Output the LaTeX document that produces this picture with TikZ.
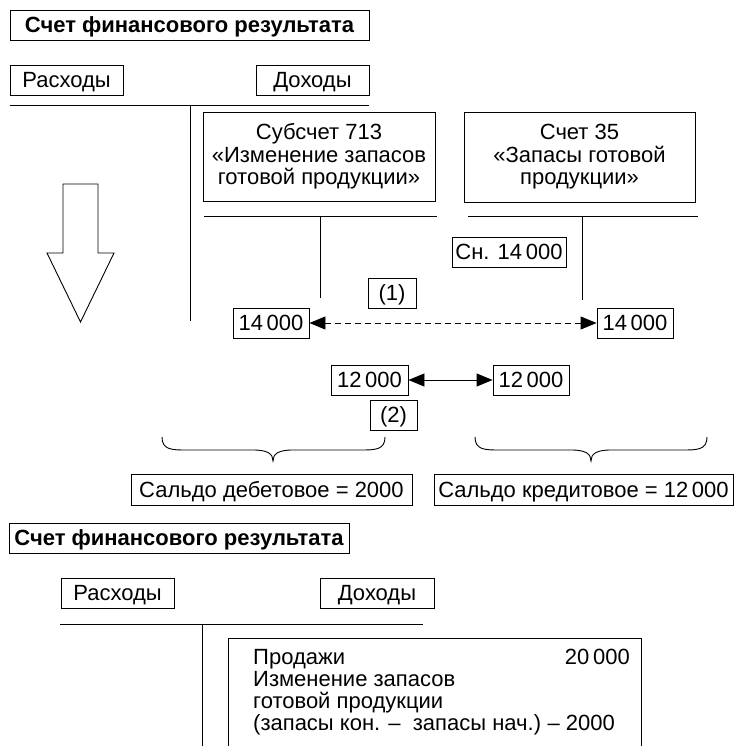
\documentclass[tikz,border=0pt]{standalone}
\usepackage{fontspec}
\setmainfont{Liberation Sans}
\usetikzlibrary{arrows.meta}
\begin{document}
\begin{tikzpicture}[x=1pt,y=-1pt,
  every node/.style={font=\fontsize{22}{22.5}\selectfont, inner sep=0pt},
  bx/.style={draw, line width=0.9pt, minimum height=30pt, text height=15.5pt, text depth=0pt},
  ttl/.style={bx, font=\fontsize{22}{22}\selectfont\bfseries},
  acct/.style={draw, line width=0.9pt, align=center},
  ln/.style={line width=0.9pt},
  dtip/.style={{Triangle[length=16pt,width=13pt]}-{Triangle[length=16pt,width=13pt]}},
  txt/.style={anchor=base west},
]
\useasboundingbox (0,0) rectangle (734,746);

% ---- top account
\node[ttl, minimum width=359pt] (t1) at (189.5,25) {Счет финансового результата};
\node[bx, minimum width=113pt] (r1) at (66.5,80) {Расходы};
\node[bx, minimum width=113pt] (d1) at (312.5,80) {Доходы};
\coordinate (h1a) at (10,105); \coordinate (h1b) at (369,105);
\coordinate (v1a) at (190,105); \coordinate (v1b) at (190,321);
\draw[ln] (h1a) -- (h1b);
\draw[ln] (v1a) -- (v1b);

% big down arrow
\draw[line width=0.9pt] (63,184) -- (98,184) -- (98,253) -- (114,253) -- (80.5,322)
  -- (47,253) -- (63,253) -- cycle;

% ---- subaccount 713
\node[acct, minimum width=232pt, minimum height=89pt] (s713) at (319,156.5)
  {Субсчет 713\\«Изменение запасов\\готовой продукции»};
\coordinate (l713a) at (204,216); \coordinate (l713b) at (437,216);
\coordinate (v713a) at (320,216); \coordinate (v713b) at (320,298);
\draw[ln] (l713a) -- (l713b);
\draw[ln] (v713a) -- (v713b);

% ---- account 35
\node[acct, minimum width=231pt, minimum height=90pt] (s35) at (579.5,157)
  {Счет 35\\«Запасы готовой\\продукции»};
\coordinate (l35a) at (468,216); \coordinate (l35b) at (698,216);
\coordinate (v35a) at (582,216); \coordinate (v35b) at (582,300);
\draw[ln] (l35a) -- (l35b);
\draw[ln] (v35a) -- (v35b);

\node[bx, minimum width=114pt] (sn) at (509,252) {Сн. 14\,000};
\node[bx, minimum width=48pt] (one) at (392,293) {(1)};
\node[bx, minimum width=76pt] (a14L) at (271,323) {14\,000};
\node[bx, minimum width=76pt] (a14R) at (635,323) {14\,000};
\draw[ln, dash pattern=on 6pt off 4pt, dtip] (a14L) -- (a14R);

\node[bx, minimum width=77pt] (a12L) at (369.5,380) {12\,000};
\node[bx, minimum width=76pt] (a12R) at (531,380) {12\,000};
\draw[ln, dtip] (a12L) -- (a12R);

\node[bx, minimum width=47pt] (two) at (393.5,415) {(2)};

% braces
\draw[ln] (162,437) .. controls (162,450) and (172,450) .. (187,450) -- (253,450)
  .. controls (268,450) and (273,454) .. (273,461)
  .. controls (273,454) and (278,450) .. (293,450) -- (360,450)
  .. controls (375,450) and (385,450) .. (385,437);
\draw[ln] (475,437) .. controls (475,450) and (485,450) .. (500,450) -- (571,450)
  .. controls (586,450) and (591,454) .. (591,461)
  .. controls (591,454) and (596,450) .. (611,450) -- (682,450)
  .. controls (697,450) and (707,450) .. (707,437);

\node[bx, minimum width=281pt, minimum height=31pt] (sdL) at (271.5,489.5) {Сальдо дебетовое = 2000};
\node[bx, minimum width=299pt, minimum height=31pt] (sdR) at (583.5,489.5) {Сальдо кредитовое = 12\,000};

% ---- bottom account
\node[ttl, minimum width=340pt] (t2) at (179,538) {Счет финансового результата};
\node[bx, minimum width=113pt] (r2) at (117.5,593) {Расходы};
\node[bx, minimum width=114pt] (d2) at (377,593) {Доходы};
\coordinate (h2a) at (60,624); \coordinate (h2b) at (423,624);
\coordinate (v2a) at (202,624); \coordinate (v2b) at (202,746);
\draw[ln] (h2a) -- (h2b);
\draw[ln] (v2a) -- (v2b);

\draw[ln] (228,746) -- (228,638) -- (641,638) -- (641,746);
\node[txt] (p1) at (253,664) {Продажи};
\node[anchor=base east] (p1v) at (630,664) {20\,000};
\node[txt] (p2) at (253,686) {Изменение запасов};
\node[txt] (p3) at (253,708) {готовой продукции};
\node[txt] (p4) at (253,730) {(запасы кон. –\ \ запасы нач.)};
\node[anchor=base east] (p4v) at (615,730) {– 2000};
\end{tikzpicture}
\end{document}
